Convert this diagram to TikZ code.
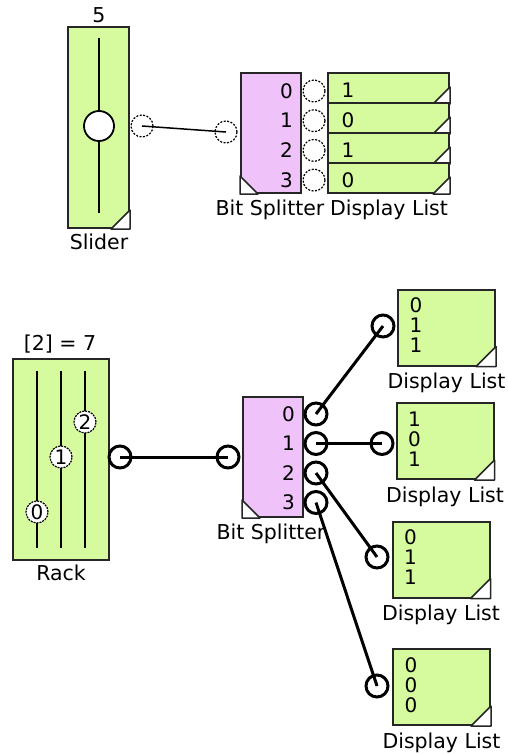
\documentclass[tikz,border=0pt]{standalone}
\usepackage{fontspec}
\setmainfont{DejaVu Sans}
\usetikzlibrary{calc}
\definecolor{blockgreen}{RGB}{214,250,158}
\definecolor{blockpink}{RGB}{240,194,250}

\begin{document}
\begin{tikzpicture}[x=1pt,y=-1pt,
		lbl/.style={font=\fontsize{20.5}{24}\selectfont, inner sep=0pt, anchor=base},
		dig/.style={font=\fontsize{20}{24}\selectfont, inner sep=0pt},
		blk/.style={draw=black!85, line width=2pt, fill=blockgreen, inner sep=0pt},
		spl/.style={blk, fill=blockpink, minimum width=60pt, minimum height=120pt},
		dlist/.style={blk, minimum width=97pt, minimum height=76pt},
		corner/.style={fill=white, draw=black!85, line width=1.5pt, line join=round},
		port/.style={circle, draw, inner sep=0pt, minimum size=22pt},
		portA/.style={port, line width=1.2pt, dash pattern=on 2pt off 1.5pt},
		portB/.style={port, line width=3pt},
		knob/.style={circle, draw, fill=white, inner sep=0pt, minimum size=22pt, line width=1.2pt, dash pattern=on 2pt off 1pt, font=\fontsize{20}{24}\selectfont},
		wire/.style={line width=3pt}]
		\useasboundingbox (0,0) rectangle (508,755);

		\node[blk, minimum width=61pt, minimum height=201pt] (slider) at (98.5,127.5) {};
		\draw[line width=2pt] (99,38) -- (99,213);
		\node[circle, draw, fill=white, minimum size=30pt, line width=1.8pt] (sliderknob) at (99,126) {};
		\filldraw[corner] (slider.south east) -- ++(-19,0) -- ++(19,-19) -- cycle;
		\node[lbl] (sliderval) at (99,22) {5};
		\node[lbl] (slidername) at (99,249) {Slider};

		\node[spl] (bsA) at (271,133) {};
		\filldraw[corner] (bsA.south west) -- ++(18,0) -- ++(-18,-18) -- cycle;
		\foreach \i in {0,...,3} {
			\node[dig, anchor=east] (bsAl\i) at (293,91+29.7*\i) {\i};
			\node[portA] (bsAo\i) at (314,91+29.7*\i) {};
		}
		\foreach \v [count=\i from 0] in {1,0,1,0} {
			\node[blk, minimum width=121pt, minimum height=30pt] (dlA\i) at (388.5,88+30*\i) {};
			\filldraw[corner] (dlA\i.south east) -- ++(-17,0) -- ++(17,-17) -- cycle;
			\node[dig] (dlAv\i) at (348,90+30*\i) {\v};
		}
		\node[lbl] (bsAname) at (270,215) {Bit Splitter};
		\node[lbl] (dlAname) at (389,215) {Display List};

		\node[portA] (sliderout) at (142,126) {};
		\node[portA] (bsAin) at (226,132) {};
		\draw[line width=1.5pt] (sliderout.center) -- (bsAin.center);

		\node[blk, minimum width=96pt, minimum height=201pt] (rack) at (61,459.5) {};
		\foreach \x in {37,61,85}
			\draw[line width=2pt] (\x,371) -- (\x,548);
		\node[knob] (knob0) at (37,512) {0};
		\node[knob] (knob1) at (61,457) {1};
		\node[knob] (knob2) at (85,422) {2};
		\node[lbl] (rackval) at (60,350) {[2] = 7};
		\node[lbl] (rackname) at (61,580) {Rack};

		\node[spl] (bsB) at (273,457) {};
		\filldraw[corner] (bsB.south west) -- ++(18,0) -- ++(-18,-18) -- cycle;
		\foreach \i in {0,...,3} {
			\node[dig, anchor=east] (bsBl\i) at (295,414+29.5*\i) {\i};
			\node[portB] (bsBo\i) at (316,414+29.5*\i) {};
		}
		\node[lbl] (bsBname) at (271,539) {Bit Splitter};

		\node[portB] (rackout) at (120,457) {};
		\node[portB] (bsBin) at (228,457) {};
		\draw[wire] (rackout.center) -- (bsBin.center);

		\foreach \n/\x/\y/\px/\py/\vals in {1/446.5/327.5/383/326/{0,1,1}, 2/445/441/382/443.5/{1,0,1}, 3/441/559.5/377/557/{0,1,1}, 4/441.5/687/377/686/{0,0,0}} {
			\node[dlist] (dl\n) at (\x,\y) {};
			\filldraw[corner] (dl\n.south east) -- ++(-20,0) -- ++(20,-20) -- cycle;
			\foreach \v [count=\j from 0] in \vals
				\node[dig] (dl\n v\j) at ($(dl\n.north west)+(19,17+20*\j)$) {\v};
			\node[lbl] (dl\n name) at ($(dl\n.south)+(0,22)$) {Display List};
			\node[portB] (dlp\n) at (\px,\py) {};
		}

		\draw[wire] (bsBo0.center) -- (dlp1.center);
		\draw[wire] (bsBo1.center) -- (dlp2.center);
		\draw[wire] (bsBo2.center) -- (dlp3.center);
		\draw[wire] (bsBo3.center) -- (dlp4.center);
	\end{tikzpicture}
\end{document}
